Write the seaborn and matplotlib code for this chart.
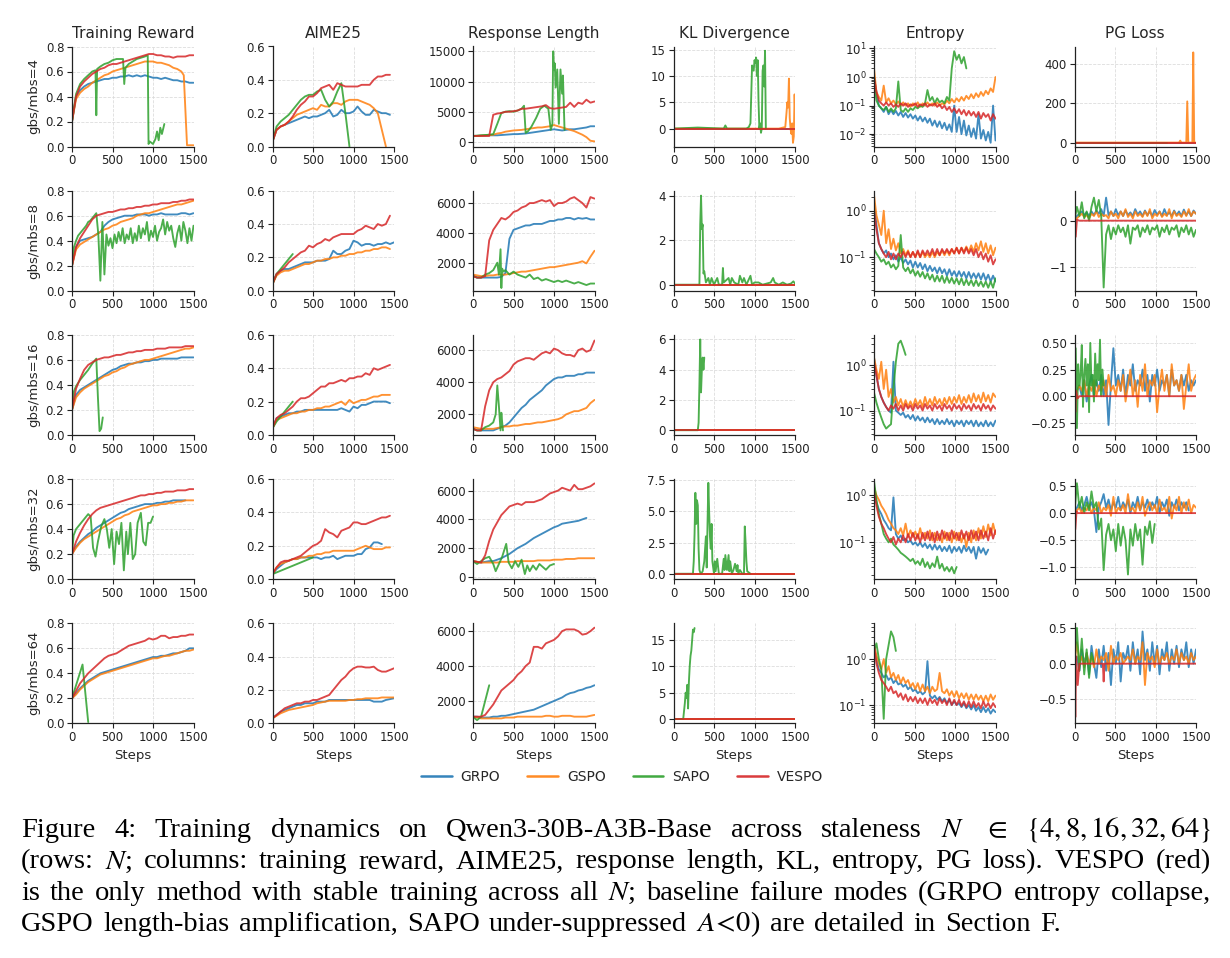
import matplotlib
matplotlib.use("Agg")
import matplotlib.pyplot as plt
from matplotlib.lines import Line2D
import pandas as pd
import seaborn as sns

# ------------------------------------------------------------------ labels
METHODS = ["GRPO", "GSPO", "SAPO", "VESPO"]
COLORS = ["#1f77b4", "#ff7f0e", "#2ca02c", "#d62728"]
COL_TITLES = ["Training Reward", "AIME25", "Response Length", "KL Divergence", "Entropy", "PG Loss"]
ROW_LABELS = ["gbs/mbs=4", "gbs/mbs=8", "gbs/mbs=16", "gbs/mbs=32", "gbs/mbs=64"]
STEP_TICKS = [0, 500, 1000, 1500]
DX_CURVE = 50   # logging interval used for the smoother metrics
DX_NOISY = 30   # logging interval used for entropy / pg loss
DX_FINE = 25
DX_DENSE = 15

# flat (zero) series
flat_steps = [0, 1500]
flat_zero = [0.0, 0.0]
flat_steps_sapo4 = [0, 1140]

# ================================================================ N = 4
reward4_grpo = [0.20,0.40,0.45,0.48,0.50,0.51,0.52,0.53,0.54,0.54,0.55,0.55,0.56,0.56,0.57,0.56,0.57,0.56,0.57,0.56,0.55,0.55,0.54,0.55,0.54,0.53,0.53,0.52,0.52,0.51,0.51]
reward4_gspo_x = [0,50,100,150,200,250,300,350,400,450,500,550,600,650,700,750,800,850,900,950,1000,1050,1100,1150,1200,1250,1300,1350,1380,1420,1450,1500]
reward4_gspo = [0.20,0.38,0.43,0.46,0.48,0.51,0.53,0.55,0.57,0.58,0.60,0.61,0.62,0.63,0.64,0.65,0.66,0.67,0.68,0.68,0.68,0.67,0.67,0.66,0.65,0.63,0.62,0.60,0.57,0.01,0.01,0.01]
reward4_sapo_x = [0,50,100,150,200,250,290,300,310,350,400,450,500,550,600,630,645,660,700,750,800,850,900,935,945,960,1000,1030,1050,1070,1090,1110,1140]
reward4_sapo = [0.20,0.42,0.50,0.54,0.57,0.60,0.61,0.25,0.62,0.64,0.66,0.67,0.69,0.70,0.70,0.70,0.50,0.63,0.66,0.68,0.70,0.71,0.72,0.73,0.02,0.04,0.02,0.06,0.12,0.05,0.15,0.10,0.18]
reward4_vespo = [0.20,0.40,0.48,0.52,0.55,0.58,0.60,0.62,0.63,0.65,0.66,0.66,0.67,0.68,0.69,0.70,0.71,0.72,0.73,0.74,0.74,0.73,0.73,0.72,0.72,0.71,0.72,0.72,0.72,0.73,0.73]

aime4_grpo = [0.03,0.10,0.12,0.13,0.14,0.15,0.16,0.17,0.18,0.17,0.18,0.18,0.19,0.20,0.22,0.18,0.19,0.22,0.20,0.20,0.21,0.24,0.21,0.19,0.19,0.22,0.21,0.20,0.20,0.19]
aime4_gspo = [0.03,0.10,0.12,0.13,0.15,0.17,0.19,0.20,0.21,0.22,0.23,0.22,0.25,0.24,0.24,0.26,0.26,0.25,0.27,0.28,0.28,0.28,0.27,0.26,0.25,0.23,0.20,0.10,0.00]
aime4_sapo = [0.03,0.12,0.15,0.17,0.19,0.22,0.25,0.28,0.30,0.31,0.31,0.33,0.34,0.28,0.24,0.27,0.33,0.38,0.20,0.00]
aime4_vespo = [0.03,0.10,0.12,0.13,0.15,0.18,0.22,0.25,0.27,0.30,0.30,0.32,0.35,0.36,0.37,0.34,0.38,0.37,0.36,0.36,0.36,0.36,0.37,0.37,0.37,0.40,0.42,0.42,0.43,0.43]

len4_grpo = [1000,1000,1050,1050,1100,1100,1100,1150,1200,1250,1300,1300,1350,1400,1500,1600,1700,1800,1900,2000,2100,2000,1900,2000,2100,2100,2200,2300,2400,2600,2600]
len4_gspo = [1000,1000,1050,1100,1100,1200,1400,1500,1700,1800,1900,1950,2000,2100,2200,2300,2400,2400,2500,2600,2800,2600,2400,2200,2000,1800,1500,1200,800,200,100]
len4_sapo_x = [0,100,200,250,300,350,400,450,500,550,600,630,650,680,720,780,830,880,930,960,980,990,1000,1010,1020,1040,1060,1080,1100,1110,1130]
len4_sapo = [1000,1100,1200,1300,3000,4800,5000,5100,5000,5200,5500,6000,1500,1800,2500,4000,5500,6000,5500,2000,3000,15000,12000,13000,9000,12000,3000,12000,8000,11000,2000]
len4_vespo = [1000,1000,1000,1000,1000,4500,4700,4800,5000,5000,5100,5200,5500,5500,5600,5700,5800,5900,6100,5600,5500,5600,5700,5800,6500,5800,6500,6300,7000,6500,6700]

kl4_gspo_x = [0,1300,1380,1395,1405,1415,1425,1435,1445,1455,1465,1475,1485,1495,1500]
kl4_gspo = [0,0,0.3,3,5,4,9.5,2,0,-1,1,-2.7,-1.5,6.5,4]
kl4_sapo_x = [0,300,620,640,660,900,930,950,970,990,1000,1010,1020,1030,1040,1050,1060,1070,1080,1090,1100,1110,1120,1130,1140]
kl4_sapo = [0,0.2,0,0.6,0,0,0.3,1,12,11,13,12.5,13.5,10,13,5,0,1,-0.8,0,11,12,8,14.8,0]

ent4_grpo = [1.0,0.3,0.1,0.08,0.06,0.09,0.05,0.07,0.05,0.065,0.045,0.06,0.04,0.055,0.038,0.05,0.035,0.045,0.03,0.042,0.028,0.038,0.025,0.035,0.02,0.03,0.018,0.028,0.016,0.025,0.014,0.022,0.012,0.1,0.012,0.04,0.01,0.03,0.009,0.02,0.008,0.016,0.007,0.05,0.007,0.014,0.006,0.012,0.005,0.1,0.006]
ent4_gspo = [2.0,0.3,0.2,0.15,0.5,0.13,0.18,0.12,0.15,0.11,0.14,0.1,0.13,0.1,0.12,0.09,0.12,0.1,0.13,0.09,0.12,0.1,0.13,0.1,0.12,0.1,0.13,0.1,0.12,0.11,0.15,0.12,0.17,0.13,0.18,0.14,0.2,0.15,0.22,0.17,0.25,0.18,0.27,0.2,0.3,0.22,0.33,0.25,0.4,0.3,1.0]
ent4_sapo = [1.0,0.15,0.1,0.08,0.07,0.09,0.06,0.08,0.06,0.08,0.7,0.07,0.06,0.08,0.06,0.08,0.07,0.09,0.08,0.1,0.09,0.12,0.35,0.15,0.2,0.12,0.18,0.13,0.15,0.12,0.2,0.15,2.0,8.0,4.0,6.0,3.0,5.0,2.0]
ent4_vespo = [1.0,0.3,0.15,0.12,0.1,0.13,0.1,0.12,0.09,0.11,0.09,0.12,0.1,0.12,0.09,0.11,0.1,0.12,0.09,0.11,0.1,0.12,0.09,0.11,0.1,0.12,0.09,0.11,0.08,0.1,0.07,0.09,0.06,0.08,0.055,0.075,0.05,0.07,0.045,0.065,0.045,0.06,0.04,0.06,0.035,0.055,0.04,0.05,0.03,0.05,0.035]

pg4_gspo_x = [0,1290,1305,1320,1380,1392,1405,1455,1466,1478,1500]
pg4_gspo = [0,0,10,0,0,210,0,0,460,0,0]

# ================================================================ N = 8
reward8_grpo = [0.20,0.35,0.40,0.41,0.42,0.43,0.45,0.47,0.52,0.55,0.57,0.58,0.59,0.60,0.60,0.60,0.61,0.61,0.61,0.60,0.61,0.61,0.62,0.61,0.61,0.61,0.61,0.62,0.62,0.61,0.62]
reward8_gspo = [0.20,0.33,0.37,0.39,0.41,0.43,0.45,0.47,0.49,0.50,0.52,0.53,0.55,0.56,0.57,0.58,0.60,0.61,0.62,0.62,0.63,0.64,0.65,0.66,0.67,0.68,0.69,0.69,0.70,0.71,0.72]
reward8_sapo = [0.20,0.35,0.40,0.44,0.46,0.48,0.50,0.52,0.55,0.56,0.58,0.60,0.62,0.45,0.08,0.55,0.13,0.45,0.36,0.42,0.34,0.45,0.38,0.47,0.40,0.50,0.38,0.45,0.41,0.50,0.38,0.46,0.40,0.52,0.42,0.50,0.45,0.55,0.40,0.48,0.43,0.52,0.40,0.47,0.50,0.57,0.45,0.55,0.48,0.52,0.42,0.35,0.46,0.52,0.40,0.55,0.48,0.38,0.50,0.40,0.52]
reward8_vespo = [0.20,0.35,0.42,0.47,0.52,0.57,0.60,0.61,0.62,0.63,0.63,0.64,0.65,0.65,0.66,0.66,0.67,0.67,0.68,0.68,0.69,0.69,0.70,0.70,0.70,0.71,0.71,0.72,0.72,0.73,0.73]

aime8_grpo = [0.04,0.10,0.12,0.13,0.13,0.14,0.15,0.16,0.17,0.17,0.17,0.18,0.18,0.18,0.19,0.24,0.22,0.22,0.24,0.25,0.30,0.29,0.27,0.28,0.28,0.27,0.28,0.28,0.29,0.28,0.29]
aime8_gspo = [0.04,0.09,0.11,0.12,0.12,0.13,0.14,0.15,0.16,0.16,0.17,0.18,0.18,0.19,0.19,0.20,0.20,0.21,0.21,0.22,0.22,0.23,0.23,0.24,0.24,0.25,0.25,0.26,0.26,0.25]
aime8_sapo = [0.04,0.10,0.13,0.16,0.19,0.22]
aime8_vespo = [0.04,0.10,0.12,0.14,0.17,0.19,0.21,0.23,0.24,0.27,0.26,0.28,0.29,0.31,0.30,0.32,0.33,0.34,0.34,0.34,0.34,0.36,0.37,0.39,0.38,0.37,0.40,0.39,0.40,0.45]

len8_grpo = [1100,1000,1000,1000,1000,1000,1000,1050,1300,3600,4200,4300,4400,4500,4500,4600,4600,4600,4700,4800,4800,4900,4900,5000,5000,4900,5000,4950,5000,4900,4900]
len8_gspo = [1200,1150,1100,1100,1150,1150,1200,1200,1200,1250,1300,1350,1400,1400,1450,1500,1550,1600,1650,1700,1700,1750,1800,1850,1900,1950,2000,2100,1950,2400,2800]
len8_sapo_x = [0,50,100,150,200,250,300,320,340,350,360,375,400,450,500,550,600,650,700,750,800,850,900,950,1000,1050,1100,1150,1200,1250,1300,1350,1400,1450,1500]
len8_sapo = [1100,1000,1000,1200,1300,1500,2000,1200,2900,300,1600,1400,1500,1200,1400,1200,1100,1000,1200,900,1000,800,900,800,700,800,700,800,700,600,700,600,500,600,600]
len8_vespo = [1100,1000,1000,1100,3500,4200,4600,5000,4900,5100,5400,5500,5700,5800,6000,6000,6100,6200,6100,6200,5800,6000,6000,6100,6300,6400,6200,6000,5700,6400,6300]

kl8_sapo_x = [0,320,330,340,350,360,370,380,400,430,450,470,500,540,560,600,610,620,650,680,700,720,750,800,820,850,870,900,950,970,1000,1050,1100,1150,1200,1230,1250,1300,1350,1400,1450,1480,1500]
kl8_sapo = [0,0,2.7,4.0,2.5,2.7,0.5,0.6,0.1,0.3,0,0.3,0,0.3,0,0,0.75,0.1,0.2,0.3,0,0.3,0.1,0,0.4,0.1,0.3,0,0.4,0,0.1,0.1,0,0.05,0.1,0.3,0.1,0,0.1,0,0.05,0.15,0.05]

ent8_grpo = [1.5,0.5,0.2,0.15,0.12,0.14,0.1,0.12,0.09,0.11,0.08,0.1,0.075,0.09,0.07,0.085,0.06,0.08,0.06,0.075,0.055,0.07,0.05,0.065,0.05,0.06,0.045,0.06,0.045,0.055,0.04,0.055,0.04,0.05,0.038,0.05,0.038,0.048,0.035,0.048,0.035,0.045,0.035,0.045,0.033,0.045,0.032,0.042,0.03,0.04,0.03]
ent8_gspo = [2.2,0.8,0.5,0.3,1.0,0.2,0.4,0.15,0.25,0.14,0.2,0.12,0.15,0.11,0.14,0.1,0.13,0.1,0.13,0.1,0.13,0.1,0.12,0.1,0.13,0.1,0.13,0.11,0.14,0.11,0.14,0.11,0.15,0.12,0.16,0.12,0.16,0.13,0.17,0.13,0.18,0.13,0.2,0.14,0.22,0.13,0.2,0.12,0.18,0.11,0.16]
ent8_sapo = [0.15,0.12,0.1,0.08,0.09,0.07,0.08,0.06,0.07,0.055,0.065,0.3,0.06,0.05,0.06,0.045,0.055,0.04,0.05,0.038,0.048,0.035,0.045,0.033,0.042,0.03,0.04,0.03,0.04,0.028,0.038,0.028,0.036,0.027,0.035,0.026,0.035,0.025,0.033,0.025,0.032,0.024,0.032,0.024,0.03,0.023,0.03,0.022,0.03,0.022,0.035]
ent8_vespo = [1.0,0.4,0.2,0.15,0.12,0.1,0.13,0.09,0.12,0.09,0.12,0.1,0.13,0.1,0.13,0.1,0.13,0.1,0.14,0.1,0.14,0.11,0.14,0.11,0.15,0.11,0.15,0.11,0.15,0.12,0.15,0.12,0.15,0.12,0.16,0.12,0.16,0.12,0.16,0.12,0.15,0.11,0.15,0.1,0.13,0.09,0.12,0.08,0.11,0.07,0.09]

pg8_grpo = [0,0.1,0.15,0.2,0.12,0.18,0.1,0.2,0.12,0.22,0.15,0.25,0.1,0.5,0.12,0.2,0.1,0.25,0.12,0.2,0.1,0.22,0.12,0.18,0.1,0.25,0.13,0.2,0.1,0.22,0.12,0.2,0.1,0.23,0.13,0.2,0.1,0.25,0.12,0.18,0.1,0.22,0.12,0.2,0.1,0.24,0.12,0.2,0.1,0.22,0.15]
pg8_gspo = [0,0.05,0.1,0.15,0.08,0.12,0.05,0.15,0.1,0.2,0.08,0.15,0.1,0.12,0.05,0.2,0.1,0.15,0.05,0.2,0.1,0.25,0.08,0.15,0.05,0.2,0.1,0.15,0.08,0.2,0.1,0.25,0.05,0.15,0.1,0.2,0.08,0.15,0.1,0.25,0.05,0.2,0.1,0.15,0.08,0.2,0.1,0.25,0.1,0.2,0.15]
pg8_sapo = [0,0.3,0.1,0.4,0.05,0.2,0.0,0.3,0.5,0.2,0.45,0.1,-1.45,-0.3,-0.1,-0.4,-0.15,-0.3,-0.1,-0.25,-0.15,-0.35,-0.1,-0.5,-0.15,-0.2,-0.1,-0.35,-0.15,-0.25,-0.1,-0.3,-0.15,-0.2,-0.1,-0.35,-0.15,-0.25,-0.1,-0.3,-0.15,-0.2,-0.1,-0.35,-0.15,-0.25,-0.1,-0.3,-0.15,-0.35,-0.2]
pg8_vespo_x = [0,15,30,60,1500]
pg8_vespo = [0.2,-0.35,0.02,0,0]

# ================================================================ N = 16
reward16_grpo = [0.20,0.32,0.36,0.38,0.40,0.42,0.44,0.46,0.48,0.50,0.52,0.53,0.55,0.56,0.57,0.57,0.58,0.58,0.59,0.59,0.60,0.60,0.61,0.61,0.61,0.61,0.61,0.62,0.62,0.62,0.62]
reward16_gspo = [0.20,0.30,0.34,0.37,0.39,0.41,0.43,0.45,0.47,0.48,0.50,0.51,0.53,0.54,0.56,0.57,0.58,0.59,0.60,0.60,0.61,0.62,0.63,0.64,0.65,0.66,0.67,0.68,0.69,0.69,0.70]
reward16_sapo_x = [0,25,50,100,150,200,250,300,320,340,360,380]
reward16_sapo = [0.20,0.35,0.39,0.44,0.48,0.52,0.57,0.61,0.30,0.03,0.05,0.14]
reward16_vespo = [0.20,0.37,0.45,0.52,0.56,0.58,0.60,0.61,0.62,0.62,0.63,0.64,0.64,0.65,0.66,0.66,0.67,0.67,0.68,0.68,0.68,0.69,0.69,0.69,0.70,0.70,0.70,0.70,0.71,0.71,0.71]

aime16_grpo = [0.04,0.10,0.11,0.12,0.13,0.13,0.14,0.14,0.15,0.15,0.15,0.15,0.15,0.15,0.15,0.15,0.15,0.16,0.15,0.14,0.17,0.16,0.18,0.18,0.19,0.20,0.20,0.20,0.20,0.19]
aime16_gspo = [0.04,0.09,0.10,0.11,0.12,0.13,0.13,0.14,0.14,0.15,0.15,0.16,0.16,0.17,0.17,0.18,0.19,0.20,0.18,0.21,0.19,0.20,0.21,0.21,0.22,0.23,0.23,0.24,0.24,0.24]
aime16_sapo = [0.04,0.08,0.11,0.14,0.17,0.20]
aime16_vespo = [0.04,0.10,0.12,0.13,0.15,0.17,0.20,0.22,0.22,0.23,0.25,0.27,0.29,0.29,0.31,0.31,0.32,0.33,0.32,0.34,0.34,0.35,0.35,0.37,0.36,0.40,0.39,0.40,0.41,0.42]

len16_grpo = [1100,1000,1000,1000,1000,1000,1100,1200,1300,1500,1800,2100,2400,2600,2900,3100,3300,3500,3800,4000,4200,4300,4300,4400,4400,4400,4500,4500,4600,4600,4600]
len16_gspo = [1200,1150,1100,1100,1100,1100,1150,1200,1250,1250,1300,1300,1350,1400,1400,1450,1500,1500,1550,1600,1650,1700,1800,2000,2100,2200,2200,2300,2400,2700,2900]
len16_sapo_x = [0,50,100,150,200,250,280,300,320,340,350,360,370]
len16_sapo = [1100,1000,1000,1200,1300,1500,2000,3800,2500,1000,2100,1500,1000]
len16_vespo = [1100,1000,1000,2500,3500,4000,4200,4300,4500,4700,5100,5300,5400,5500,5500,5400,5600,5800,5900,5800,6100,6000,5800,5700,5700,5600,6000,6100,5900,6000,6600]

kl16_sapo_x = [0,300,310,320,330,340,350,360,370,380]
kl16_sapo = [0,0,0.5,3,6.0,2.5,4,4.8,4.0,4.8]

ent16_grpo = [1.5,0.6,0.3,0.2,0.15,0.12,0.1,0.09,1.2,0.1,0.09,0.08,0.09,0.07,0.08,0.065,0.08,0.06,0.075,0.06,0.07,0.055,0.07,0.055,0.065,0.05,0.065,0.05,0.06,0.05,0.065,0.05,0.06,0.045,0.06,0.05,0.06,0.045,0.06,0.05,0.06,0.045,0.06,0.045,0.055,0.045,0.06,0.045,0.055,0.045,0.06]
ent16_gspo = [1.5,0.8,0.5,1.2,0.3,0.8,0.2,0.3,0.15,0.2,0.13,0.18,0.12,0.17,0.12,0.16,0.12,0.18,0.13,0.17,0.12,0.2,0.13,0.18,0.13,0.2,0.14,0.18,0.13,0.19,0.14,0.2,0.14,0.2,0.15,0.22,0.14,0.2,0.15,0.22,0.15,0.24,0.16,0.22,0.15,0.25,0.16,0.22,0.15,0.24,0.2]
ent16_sapo = [0.25,0.15,0.1,0.07,0.05,0.04,0.045,0.05,0.3,1.2,3.0,3.5,2.5,1.7]
ent16_vespo = [1.2,0.6,0.3,0.2,0.15,0.12,0.1,0.13,0.11,0.14,0.1,0.13,0.1,0.14,0.11,0.13,0.1,0.14,0.11,0.13,0.1,0.14,0.11,0.13,0.1,0.14,0.11,0.13,0.1,0.14,0.11,0.13,0.1,0.14,0.11,0.13,0.1,0.14,0.11,0.13,0.1,0.14,0.11,0.13,0.1,0.14,0.11,0.13,0.1,0.13,0.11]

pg16_grpo = [0,0.05,0.1,0.0,0.15,-0.05,0.1,0.2,0.0,0.15,0.05,0.2,0.0,0.15,-0.27,0.12,0.45,0.1,0.2,0.05,0.25,0.0,0.2,0.1,0.3,0.05,0.15,0.1,0.25,0.05,0.2,-0.05,0.2,0.1,0.25,0.05,0.15,0.1,0.2,0.0,0.25,0.1,0.15,0.05,0.2,0.1,0.2,0.05,0.15,0.1,0.15]
pg16_gspo = [0,0.05,0.1,0.05,0.15,0.0,0.1,0.05,0.15,0.0,0.1,0.05,0.15,0.0,0.2,0.05,0.1,0.0,0.15,0.05,0.2,-0.05,0.1,0.25,0.0,0.15,-0.1,0.2,0.05,0.3,0.0,0.15,0.1,0.2,-0.15,0.1,0.25,0.05,0.2,0.0,0.3,0.1,0.15,0.05,0.2,-0.12,0.1,0.3,0.05,0.15,0.2]
pg16_sapo = [0,0.45,-0.3,0.3,0.1,0.2,0.48,-0.1,0.2,0.35,0.1,0.3,-0.15,0.5,0.1,0.2,-0.05,0.4,0.1,0.3,0.15,0.53,0.0,0.25,0.1]
pg16_vespo_x = [0,10,20,40,60,1500]
pg16_vespo = [0.1,-0.15,0.05,-0.02,0,0]

# ================================================================ N = 32
reward32_grpo = [0.20,0.26,0.30,0.33,0.36,0.38,0.41,0.43,0.45,0.47,0.49,0.51,0.53,0.54,0.56,0.57,0.58,0.59,0.60,0.60,0.60,0.61,0.61,0.62,0.62,0.63,0.63,0.63,0.63]
reward32_gspo = [0.20,0.25,0.29,0.32,0.34,0.36,0.38,0.40,0.42,0.44,0.46,0.48,0.49,0.51,0.52,0.54,0.55,0.56,0.57,0.58,0.59,0.59,0.60,0.60,0.61,0.61,0.62,0.62,0.63,0.63,0.63]
reward32_sapo_x = [0,20,50,100,150,200,230,260,290,320,360,400,430,460,490,520,550,580,610,640,670,690,720,750,780,810,850,880,910,940,970,1000]
reward32_sapo = [0.20,0.35,0.40,0.44,0.48,0.52,0.50,0.25,0.18,0.30,0.42,0.48,0.40,0.25,0.40,0.12,0.38,0.28,0.45,0.07,0.38,0.20,0.45,0.16,0.20,0.45,0.53,0.30,0.27,0.45,0.45,0.50]
reward32_vespo = [0.20,0.30,0.37,0.43,0.48,0.52,0.55,0.57,0.58,0.59,0.60,0.61,0.62,0.63,0.64,0.65,0.66,0.67,0.67,0.68,0.68,0.69,0.69,0.70,0.70,0.70,0.71,0.71,0.71,0.72,0.72]

aime32_grpo = [0.03,0.06,0.08,0.10,0.11,0.12,0.12,0.13,0.13,0.13,0.13,0.13,0.12,0.13,0.13,0.14,0.12,0.13,0.14,0.14,0.14,0.15,0.15,0.18,0.19,0.22,0.22,0.21]
aime32_gspo = [0.03,0.07,0.09,0.10,0.11,0.12,0.12,0.13,0.13,0.14,0.14,0.15,0.15,0.16,0.16,0.17,0.17,0.17,0.17,0.17,0.17,0.18,0.19,0.20,0.19,0.18,0.18,0.18,0.19,0.19]
aime32_sapo_x = [0,250,500]
aime32_sapo = [0.03,0.08,0.13]
aime32_vespo = [0.03,0.07,0.10,0.11,0.11,0.12,0.13,0.14,0.16,0.18,0.20,0.21,0.23,0.30,0.28,0.27,0.25,0.29,0.30,0.31,0.34,0.34,0.33,0.33,0.34,0.35,0.36,0.37,0.37,0.38]

len32_grpo = [1100,1050,1000,1050,1100,1100,1200,1300,1450,1600,1800,2000,2150,2300,2500,2700,2850,3000,3150,3300,3450,3550,3700,3750,3800,3850,3900,4000,4100]
len32_gspo = [1100,1050,1000,1000,1000,1000,1000,1050,1050,1050,1050,1100,1100,1100,1100,1100,1150,1150,1150,1150,1200,1200,1200,1250,1250,1250,1300,1300,1300,1300,1300]
len32_sapo_x = [0,50,100,150,200,250,280,320,360,410,440,480,520,560,600,640,670,700,740,780,820,860,900,950,1000]
len32_sapo = [1100,900,1100,1300,1400,900,400,900,1400,2300,1000,600,1100,700,1200,200,800,400,800,500,900,700,500,800,900]
len32_vespo = [1100,1050,1000,1500,2500,3300,3800,4300,4600,4900,5000,5100,5000,5200,5200,5200,5300,5400,5600,5800,5900,6000,6200,6100,6000,6400,6100,6100,6200,6300,6500]

kl32_sapo_x = [0,240,250,260,270,280,290,300,310,320,330,340,360,380,400,410,420,430,440,450,460,470,480,490,500,510,520,540,560,580,600,620,630,640,660,680,690,700,720,740,760,780,790,800,820,850,870,880,890,900,910,930,950]
kl32_sapo = [0,0,1,3.2,6.5,4,5.9,5.5,2,0.3,0.1,0,0.2,1,3,0.5,4,7.3,5,3,2,4,1,0.5,0,1,0.2,1.2,0,0,0,1.2,0.3,1.5,0.3,1.5,0.2,1,0,0.3,0.8,0.2,0.7,0,0.3,0,0,3.8,2.5,1,0.2,0.1,0]

ent32_grpo = [1.5,0.7,0.5,0.4,0.3,0.25,0.2,0.18,0.9,0.15,0.12,0.14,0.11,0.12,0.1,0.11,0.09,0.1,0.085,0.1,0.08,0.095,0.075,0.09,0.07,0.09,0.07,0.085,0.065,0.08,0.065,0.085,0.06,0.08,0.065,0.08,0.06,0.085,0.065,0.08,0.06,0.08,0.045,0.08,0.06,0.075,0.055,0.07]
ent32_gspo = [1.5,1.0,0.8,0.6,0.5,0.4,0.3,0.25,0.2,0.18,0.15,0.2,0.14,0.25,0.13,0.18,0.13,0.17,0.12,0.2,0.12,0.16,0.12,0.18,0.11,0.16,0.11,0.15,0.1,0.17,0.11,0.16,0.1,0.17,0.11,0.16,0.1,0.15,0.08,0.16,0.1,0.18,0.11,0.2,0.12,0.22,0.13,0.24,0.14,0.25,0.15]
ent32_sapo = [2.0,0.8,0.4,0.25,0.15,0.12,0.1,0.12,0.09,0.08,0.07,0.06,0.055,0.05,0.045,0.04,0.045,0.035,0.04,0.033,0.045,0.03,0.038,0.028,0.036,0.03,0.05,0.028,0.035,0.025,0.03,0.024,0.03,0.022,0.03]
ent32_vespo = [1.2,0.6,0.35,0.25,0.2,0.15,0.12,0.1,0.13,0.09,0.12,0.1,0.14,0.1,0.15,0.11,0.16,0.11,0.15,0.1,0.16,0.11,0.17,0.11,0.16,0.1,0.17,0.11,0.18,0.12,0.16,0.11,0.18,0.12,0.16,0.11,0.18,0.12,0.17,0.11,0.18,0.12,0.17,0.11,0.18,0.12,0.17,0.11,0.2,0.12,0.18]

pg32_grpo = [0,0.1,0.2,0.05,0.15,0.3,0.1,0.2,0.05,-0.35,0.1,0.2,0.35,0.1,0.25,0.05,0.2,0.1,0.3,0.05,0.2,0.1,0.25,0.0,0.2,0.1,0.3,0.05,0.2,0.1,0.25,0.05,0.2,0.1,0.3,0.0,0.2,0.1,0.25,-0.05,0.2,0.1,0.25,0.05,0.2,0.1,0.2,0.05]
pg32_gspo = [0,0.05,0.1,0.0,0.1,0.05,0.15,0.0,0.1,0.05,0.2,0.0,0.1,0.05,0.15,-0.05,0.3,0.0,0.1,0.05,0.15,0.0,0.35,0.05,0.1,0.0,0.2,0.05,0.3,-0.05,0.1,0.2,0.05,0.15,0.0,0.25,0.05,0.1,0.0,0.3,-0.1,0.15,0.05,0.3,0.0,0.2,0.05,0.25,0.0,0.15,0.1]
pg32_sapo = [0,0.55,0.1,0.3,0.0,0.2,0.05,0.4,0.1,0.2,-0.3,-0.1,-1.05,-0.4,-0.2,-0.5,-0.3,-0.7,-0.2,-0.6,-0.25,-0.5,-1.13,-0.3,-0.6,-0.2,-0.5,-0.3,-0.95,-0.25,-0.4,-0.15,-0.55,-0.2]
pg32_vespo_x = [0,10,25,40,1500]
pg32_vespo = [0.05,-0.3,0.03,0,0]

# ================================================================ N = 64
reward64_grpo = [0.20,0.24,0.28,0.31,0.34,0.36,0.38,0.40,0.41,0.42,0.43,0.44,0.45,0.46,0.47,0.48,0.49,0.50,0.51,0.52,0.53,0.53,0.54,0.54,0.55,0.56,0.56,0.57,0.58,0.60,0.60]
reward64_gspo = [0.20,0.23,0.27,0.30,0.33,0.35,0.37,0.39,0.40,0.41,0.42,0.43,0.44,0.45,0.46,0.47,0.48,0.49,0.50,0.51,0.52,0.52,0.53,0.54,0.54,0.55,0.56,0.57,0.58,0.58,0.59]
reward64_sapo_x = [0,130,200]
reward64_sapo = [0.20,0.47,0.01]
reward64_vespo = [0.20,0.26,0.32,0.36,0.40,0.43,0.46,0.49,0.52,0.54,0.55,0.56,0.58,0.60,0.62,0.63,0.64,0.65,0.66,0.68,0.67,0.68,0.70,0.70,0.68,0.69,0.69,0.70,0.70,0.71,0.71]

aime64_grpo = [0.03,0.05,0.07,0.08,0.09,0.10,0.11,0.11,0.12,0.12,0.12,0.13,0.13,0.13,0.14,0.14,0.14,0.14,0.14,0.14,0.14,0.14,0.14,0.14,0.14,0.13,0.13,0.13,0.14,0.145,0.15]
aime64_gspo = [0.03,0.045,0.06,0.07,0.08,0.085,0.09,0.095,0.10,0.105,0.11,0.12,0.125,0.13,0.135,0.135,0.135,0.135,0.135,0.14,0.14,0.145,0.145,0.15,0.15,0.15,0.15,0.155,0.155,0.155,0.155]
aime64_vespo = [0.03,0.05,0.07,0.09,0.10,0.11,0.12,0.12,0.13,0.13,0.14,0.14,0.15,0.16,0.17,0.20,0.23,0.26,0.28,0.31,0.33,0.34,0.34,0.335,0.335,0.34,0.32,0.31,0.31,0.32,0.33]

len64_grpo = [1100,1100,1050,1050,1050,1100,1100,1150,1150,1200,1250,1300,1350,1400,1450,1500,1600,1700,1800,1900,2000,2100,2200,2350,2450,2500,2600,2650,2750,2800,2900]
len64_gspo = [1100,1050,1000,1000,1000,1000,1000,1000,1050,1050,1050,1100,1100,1100,1100,1100,1100,1100,1150,1150,1100,1100,1150,1150,1150,1100,1100,1100,1100,1150,1200]
len64_sapo = [1100,900,1100,2000,2900]
len64_vespo = [1100,1100,1100,1200,1500,1800,2200,2600,2800,3000,3200,3500,3700,4000,4200,5100,5100,5000,5300,5400,5500,5700,6000,6100,6100,6100,6000,5800,5850,6000,6200]

kl64_sapo_x = [0,120,140,150,160,170,180,190,200,210,220,230,240,250,260]
kl64_sapo = [0,0,3,5,4,6.5,2,7,10,12,13,15,17,16.5,17.3]

ent64_grpo = [2.0,1.0,0.6,0.5,0.4,0.45,0.35,0.4,0.3,0.35,0.28,0.3,0.25,0.28,0.22,0.25,0.2,0.22,0.18,0.2,0.17,0.19,0.9,0.16,0.14,0.16,0.13,0.15,0.12,0.14,0.11,0.13,0.1,0.12,0.1,0.11,0.09,0.11,0.085,0.1,0.08,0.1,0.075,0.09,0.07,0.09,0.07,0.085,0.065,0.08,0.07]
ent64_gspo = [2.0,1.2,0.8,0.6,1.0,0.5,0.7,0.4,0.5,0.35,0.45,0.3,0.4,0.3,0.35,0.25,0.3,0.22,0.3,0.2,0.28,0.2,0.25,0.18,0.25,0.2,0.22,0.5,0.2,0.18,0.22,0.16,0.2,0.15,0.2,0.14,0.18,0.14,0.18,0.13,0.17,0.13,0.17,0.13,0.16,0.12,0.16,0.12,0.17,0.13,0.16]
ent64_sapo = [1.5,2.2,1.0,0.6,0.05,1.0,2.0,4.0,3.0,1.5]
ent64_vespo = [2.0,0.8,0.5,0.35,0.3,0.25,0.2,0.25,0.18,0.2,0.15,0.18,0.13,0.17,0.12,0.15,0.12,0.15,0.11,0.14,0.11,0.14,0.1,0.14,0.11,0.13,0.1,0.14,0.11,0.13,0.1,0.14,0.1,0.13,0.1,0.13,0.095,0.12,0.09,0.12,0.09,0.12,0.09,0.11,0.085,0.12,0.09,0.11,0.085,0.11,0.09]

pg64_grpo = [0,0.1,-0.1,0.2,0.0,0.15,-0.15,0.25,0.0,-0.2,0.2,-0.05,0.25,-0.1,0.15,-0.3,0.2,0.0,0.3,-0.25,0.15,0.05,0.25,-0.1,0.3,0.0,0.2,-0.15,0.45,0.05,0.2,-0.1,0.3,0.0,0.25,-0.15,0.2,0.05,0.3,-0.1,0.2,0.0,0.25,-0.05,0.2,0.05,0.3,-0.05,0.2,0.0,0.2]
pg64_gspo = [0,0.3,0.0,0.1,-0.05,0.15,0.0,0.1,-0.05,0.2,0.0,0.1,0.05,0.15,-0.1,0.25,0.0,0.1,0.05,0.15,0.0,0.05,0.1,0.05,0.2,0.0,0.1,0.05,0.3,-0.3,0.15,0.05,0.1,-0.05,0.2,0.0,0.1,0.05,0.15,0.0,0.1,0.05,0.2,0.0,0.15,0.05,0.1,0.0,0.15,0.05,0.1]
pg64_sapo = [0,0.5,-0.1,0.35,-0.15,0.2,-0.2,0.15,0.0]
pg64_vespo_x = [0,10,20,40,60,350,360,370,1500]
pg64_vespo = [0.3,-0.75,0.1,-0.3,0,0,-0.25,0,0]

# axis ranges / ticks
YLIMS = [
    [(0, 0.8), (0, 0.6), (-750, 15800), (-3.4, 15.6), (0.0037, 11.7), (-20, 490)],
    [(0, 0.8), (0, 0.6), (120, 6830), (-0.27, 4.22), (0.019, 2.7), (-1.52, 0.65)],
    [(0, 0.8), (0, 0.6), (720, 6950), (-0.31, 6.3), (0.029, 4.7), (-0.363, 0.575)],
    [(0, 0.8), (0, 0.6), (-150, 6800), (-0.43, 7.6), (0.0166, 2.2), (-1.215, 0.626)],
    [(0, 0.8), (0, 0.6), (720, 6450), (-0.82, 18.2), (0.04, 6.0), (-0.836, 0.565)],
]
R_T = [0, 0.2, 0.4, 0.6, 0.8]
A_T = [0, 0.2, 0.4, 0.6]
YTICKS = [
    [R_T, A_T, [0, 5000, 10000, 15000], [0, 5, 10, 15], None, [0, 200, 400]],
    [R_T, A_T, [2000, 4000, 6000], [0, 2, 4], None, [-1, 0]],
    [R_T, A_T, [2000, 4000, 6000], [0, 2, 4, 6], None, [-0.25, 0, 0.25, 0.5]],
    [R_T, A_T, [0, 2000, 4000, 6000], [0, 2.5, 5, 7.5], None, [-1, -0.5, 0, 0.5]],
    [R_T, A_T, [2000, 4000, 6000], [0, 5, 10, 15], None, [-0.5, 0, 0.5]],
]


def grid(values, dx):
    return (list(range(0, dx * len(values), dx)), values)


def pair(xs, ys):
    return (xs, ys)


Z = pair(flat_steps, flat_zero)
PANELS = [
    [  # N = 4
        {"GRPO": grid(reward4_grpo, DX_CURVE), "GSPO": pair(reward4_gspo_x, reward4_gspo),
         "SAPO": pair(reward4_sapo_x, reward4_sapo), "VESPO": grid(reward4_vespo, DX_CURVE)},
        {"GRPO": grid(aime4_grpo, DX_CURVE), "GSPO": grid(aime4_gspo, DX_CURVE),
         "SAPO": grid(aime4_sapo, DX_CURVE), "VESPO": grid(aime4_vespo, DX_CURVE)},
        {"GRPO": grid(len4_grpo, DX_CURVE), "GSPO": grid(len4_gspo, DX_CURVE),
         "SAPO": pair(len4_sapo_x, len4_sapo), "VESPO": grid(len4_vespo, DX_CURVE)},
        {"GRPO": Z, "GSPO": pair(kl4_gspo_x, kl4_gspo), "SAPO": pair(kl4_sapo_x, kl4_sapo), "VESPO": Z},
        {"GRPO": grid(ent4_grpo, DX_NOISY), "GSPO": grid(ent4_gspo, DX_NOISY),
         "SAPO": grid(ent4_sapo, DX_NOISY), "VESPO": grid(ent4_vespo, DX_NOISY)},
        {"GRPO": Z, "GSPO": pair(pg4_gspo_x, pg4_gspo), "SAPO": pair(flat_steps_sapo4, flat_zero), "VESPO": Z},
    ],
    [  # N = 8
        {"GRPO": grid(reward8_grpo, DX_CURVE), "GSPO": grid(reward8_gspo, DX_CURVE),
         "SAPO": grid(reward8_sapo, DX_FINE), "VESPO": grid(reward8_vespo, DX_CURVE)},
        {"GRPO": grid(aime8_grpo, DX_CURVE), "GSPO": grid(aime8_gspo, DX_CURVE),
         "SAPO": grid(aime8_sapo, DX_CURVE), "VESPO": grid(aime8_vespo, DX_CURVE)},
        {"GRPO": grid(len8_grpo, DX_CURVE), "GSPO": grid(len8_gspo, DX_CURVE),
         "SAPO": pair(len8_sapo_x, len8_sapo), "VESPO": grid(len8_vespo, DX_CURVE)},
        {"GRPO": Z, "GSPO": Z, "SAPO": pair(kl8_sapo_x, kl8_sapo), "VESPO": Z},
        {"GRPO": grid(ent8_grpo, DX_NOISY), "GSPO": grid(ent8_gspo, DX_NOISY),
         "SAPO": grid(ent8_sapo, DX_NOISY), "VESPO": grid(ent8_vespo, DX_NOISY)},
        {"GRPO": grid(pg8_grpo, DX_NOISY), "GSPO": grid(pg8_gspo, DX_NOISY),
         "SAPO": grid(pg8_sapo, DX_NOISY), "VESPO": pair(pg8_vespo_x, pg8_vespo)},
    ],
    [  # N = 16
        {"GRPO": grid(reward16_grpo, DX_CURVE), "GSPO": grid(reward16_gspo, DX_CURVE),
         "SAPO": pair(reward16_sapo_x, reward16_sapo), "VESPO": grid(reward16_vespo, DX_CURVE)},
        {"GRPO": grid(aime16_grpo, DX_CURVE), "GSPO": grid(aime16_gspo, DX_CURVE),
         "SAPO": grid(aime16_sapo, DX_CURVE), "VESPO": grid(aime16_vespo, DX_CURVE)},
        {"GRPO": grid(len16_grpo, DX_CURVE), "GSPO": grid(len16_gspo, DX_CURVE),
         "SAPO": pair(len16_sapo_x, len16_sapo), "VESPO": grid(len16_vespo, DX_CURVE)},
        {"GRPO": Z, "GSPO": Z, "SAPO": pair(kl16_sapo_x, kl16_sapo), "VESPO": Z},
        {"GRPO": grid(ent16_grpo, DX_NOISY), "GSPO": grid(ent16_gspo, DX_NOISY),
         "SAPO": grid(ent16_sapo, DX_NOISY), "VESPO": grid(ent16_vespo, DX_NOISY)},
        {"GRPO": grid(pg16_grpo, DX_NOISY), "GSPO": grid(pg16_gspo, DX_NOISY),
         "SAPO": grid(pg16_sapo, DX_DENSE), "VESPO": pair(pg16_vespo_x, pg16_vespo)},
    ],
    [  # N = 32
        {"GRPO": grid(reward32_grpo, DX_CURVE), "GSPO": grid(reward32_gspo, DX_CURVE),
         "SAPO": pair(reward32_sapo_x, reward32_sapo), "VESPO": grid(reward32_vespo, DX_CURVE)},
        {"GRPO": grid(aime32_grpo, DX_CURVE), "GSPO": grid(aime32_gspo, DX_CURVE),
         "SAPO": pair(aime32_sapo_x, aime32_sapo), "VESPO": grid(aime32_vespo, DX_CURVE)},
        {"GRPO": grid(len32_grpo, DX_CURVE), "GSPO": grid(len32_gspo, DX_CURVE),
         "SAPO": pair(len32_sapo_x, len32_sapo), "VESPO": grid(len32_vespo, DX_CURVE)},
        {"GRPO": Z, "GSPO": Z, "SAPO": pair(kl32_sapo_x, kl32_sapo), "VESPO": Z},
        {"GRPO": grid(ent32_grpo, DX_NOISY), "GSPO": grid(ent32_gspo, DX_NOISY),
         "SAPO": grid(ent32_sapo, DX_NOISY), "VESPO": grid(ent32_vespo, DX_NOISY)},
        {"GRPO": grid(pg32_grpo, DX_NOISY), "GSPO": grid(pg32_gspo, DX_NOISY),
         "SAPO": grid(pg32_sapo, DX_NOISY), "VESPO": pair(pg32_vespo_x, pg32_vespo)},
    ],
    [  # N = 64
        {"GRPO": grid(reward64_grpo, DX_CURVE), "GSPO": grid(reward64_gspo, DX_CURVE),
         "SAPO": pair(reward64_sapo_x, reward64_sapo), "VESPO": grid(reward64_vespo, DX_CURVE)},
        {"GRPO": grid(aime64_grpo, DX_CURVE), "GSPO": grid(aime64_gspo, DX_CURVE),
         "VESPO": grid(aime64_vespo, DX_CURVE)},
        {"GRPO": grid(len64_grpo, DX_CURVE), "GSPO": grid(len64_gspo, DX_CURVE),
         "SAPO": grid(len64_sapo, DX_CURVE), "VESPO": grid(len64_vespo, DX_CURVE)},
        {"GRPO": Z, "GSPO": Z, "SAPO": pair(kl64_sapo_x, kl64_sapo), "VESPO": Z},
        {"GRPO": grid(ent64_grpo, DX_NOISY), "GSPO": grid(ent64_gspo, DX_NOISY),
         "SAPO": grid(ent64_sapo, DX_NOISY), "VESPO": grid(ent64_vespo, DX_NOISY)},
        {"GRPO": grid(pg64_grpo, DX_NOISY), "GSPO": grid(pg64_gspo, DX_NOISY),
         "SAPO": grid(pg64_sapo, DX_NOISY), "VESPO": pair(pg64_vespo_x, pg64_vespo)},
    ],
]

CAPTION_LINES = [
    ["Figure", "4:", "Training", "dynamics", "on", "Qwen3-30B-A3B-Base", "across", "staleness",
     "$N$", r"$\in$", r"$\{4, 8, 16, 32, 64\}$"],
    ["(rows:", "$N$;", "columns:", "training", "reward,", "AIME25,", "response", "length,", "KL,",
     "entropy,", "PG", "loss).", "VESPO", "(red)"],
    ["is", "the", "only", "method", "with", "stable", "training", "across", "all", "$N$;", "baseline",
     "failure", "modes", "(GRPO", "entropy", "collapse,"],
    ["GSPO", "length-bias", "amplification,", "SAPO", "under-suppressed", r"$A\!<\!0$)", "are",
     "detailed", "in", "Section", "F."],
]

# ------------------------------------------------------------------ style
sns.set_theme(style="ticks", rc={
    "axes.edgecolor": "#222222",
    "axes.linewidth": 0.9,
    "xtick.color": "#222222",
    "ytick.color": "#222222",
    "xtick.major.size": 3.5,
    "ytick.major.size": 3.5,
    "xtick.major.width": 0.8,
    "ytick.major.width": 0.8,
    "ytick.minor.size": 2.0,
    "ytick.minor.width": 0.6,
})
plt.rcParams["font.family"] = ["DejaVu Sans"]
PALETTE = dict(zip(METHODS, COLORS))

W, H = 1230, 958
fig = plt.figure(figsize=(W / 100, H / 100), dpi=100)

AX_LEFT0, AX_DX, AX_W = 72.0, 200.5, 121.5
AX_TOP0, AX_DY, AX_H = 46.5, 144.2, 100.0

for r in range(5):
    for c in range(6):
        left = AX_LEFT0 + c * AX_DX
        top = AX_TOP0 + r * AX_DY
        ax = fig.add_axes([left / W, 1 - (top + AX_H) / H, AX_W / W, AX_H / H])
        series = PANELS[r][c]
        frames = []
        order = [m for m in METHODS if m in series]
        for m in order:
            xs, ys = series[m]
            frames.append(pd.DataFrame({"step": xs, "value": ys, "method": m}))
        df = pd.concat(frames, ignore_index=True)
        if c == 4:
            ax.set_yscale("log")
        sns.lineplot(data=df, x="step", y="value", hue="method", hue_order=order,
                     palette=PALETTE, estimator=None, legend=False, sort=False,
                     linewidth=1.35, alpha=0.85, ax=ax)
        ax.set_xlim(0, 1500)
        ax.set_xticks(STEP_TICKS)
        ax.set_ylim(*YLIMS[r][c])
        if YTICKS[r][c] is not None:
            ax.set_yticks(YTICKS[r][c])
        ax.grid(True, which="major", linestyle="--", linewidth=0.6, color="#d9d9d9", alpha=0.9)
        ax.tick_params(axis="both", which="major", labelsize=8.5, pad=2)
        sns.despine(ax=ax)
        ax.set_xlabel("Steps" if r == 4 else "", fontsize=9.5)
        ax.set_ylabel(ROW_LABELS[r] if c == 0 else "", fontsize=9.5)
        if r == 0:
            ax.set_title(COL_TITLES[c], fontsize=11, pad=6)

handles = [Line2D([0], [0], color=col, lw=1.8, alpha=0.9) for col in COLORS]
fig.legend(handles, METHODS, loc="center", bbox_to_anchor=(622 / W, 1 - 777 / H), ncol=4,
           frameon=False, fontsize=10, handlelength=2.2, columnspacing=1.95, handletextpad=0.65)

# ------------------------------------------------------------------ caption (justified)
CAP_X0, CAP_X1 = 21.0, 1211.0
CAP_SIZE = 20.5
CAP_BASELINES = [837.0, 868.5, 900.0, 931.0]
cap_kw = dict(fontfamily="Liberation Serif", fontsize=CAP_SIZE, math_fontfamily="stix",
              va="baseline", ha="left", color="black")
line_texts = []
for i, words in enumerate(CAPTION_LINES):
    y = 1 - CAP_BASELINES[i] / H
    line_texts.append([fig.text(0, y, w, **cap_kw) for w in words])
fig.canvas.draw()
renderer = fig.canvas.get_renderer()
space_w = CAP_SIZE * 100 / 72 * 0.33
for i, texts in enumerate(line_texts):
    widths = [t.get_window_extent(renderer).width for t in texts]
    if i < len(line_texts) - 1:
        gap = (CAP_X1 - CAP_X0 - sum(widths)) / (len(texts) - 1)
    else:
        gap = space_w
    x = CAP_X0
    for t, w in zip(texts, widths):
        t.set_x(x / W)
        x += w + gap

fig.savefig("out.png", dpi=100)
